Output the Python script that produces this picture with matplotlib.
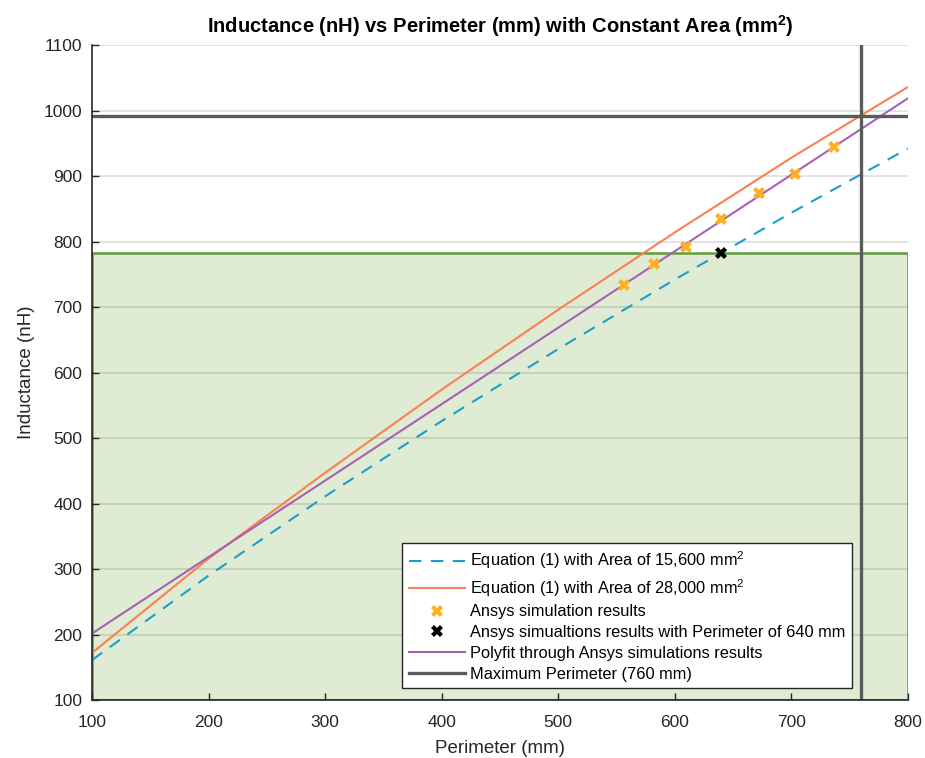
import numpy as np
import matplotlib
matplotlib.use("Agg")
import matplotlib.pyplot as plt
from matplotlib.patches import Rectangle

plt.rcParams['font.family'] = ['Liberation Sans', 'DejaVu Sans']
plt.rcParams['mathtext.fontset'] = 'custom'
plt.rcParams['mathtext.rm'] = 'Liberation Sans'
plt.rcParams['mathtext.bf'] = 'Liberation Sans:bold'

# ---- data ----
perimeter_eq = [100, 200, 300, 400, 500, 600, 700, 800]
L_area_15600 = [161, 290, 411, 526, 636, 742, 844, 942]
L_area_28000 = [172, 316, 447, 574, 696, 814, 928, 1036]

sim_perimeter = [556, 582, 610, 640, 672, 703, 737]
sim_L = [733, 766, 792, 835, 874, 903, 944]

sim640_perimeter = [640]
sim640_L = [782]

max_perimeter = 760
max_L = 992
target_L = 782

xticks = list(range(100, 801, 100))
yticks = list(range(100, 1101, 100))

# ---- figure ----
fig = plt.figure(figsize=(9.25, 7.58), dpi=100)
ax = fig.add_axes([0.0995, 0.0765, 0.882, 0.864])

ax.add_patch(Rectangle((100, 100), 700, target_L - 100, facecolor='#dfebd2',
                       edgecolor='#5e9c3c', linewidth=1.8, zorder=0.2))

ax.plot(perimeter_eq, L_area_15600, color='#1a9fcc', linestyle=(0, (6, 4.5)),
        linewidth=1.5, label='Equation (1) with Area of 15,600 mm$^2$', zorder=2)
ax.plot(perimeter_eq, L_area_28000, color='#f98052', linewidth=1.5,
        label='Equation (1) with Area of 28,000 mm$^2$', zorder=2)
ax.plot(sim_perimeter, sim_L, linestyle='none', marker='X', markersize=8,
        color='#ffb020', markeredgewidth=0, label='Ansys simulation results', zorder=3)
ax.plot(sim640_perimeter, sim640_L, linestyle='none', marker='X', markersize=8,
        color='black', markeredgewidth=0,
        label='Ansys simualtions results with Perimeter of 640 mm', zorder=3)

coef = np.polyfit(sim_perimeter, sim_L, 1)
xf = np.array([xticks[0], xticks[-1]])
ax.plot(xf, np.polyval(coef, xf), color='#a462b3', linewidth=1.5,
        label='Polyfit through Ansys simulations results', zorder=2)

ax.axvline(max_perimeter, color='#5a5a5a', linewidth=2.4,
           label='Maximum Perimeter (760 mm)', zorder=2.5)
ax.axhline(max_L, color='#5a5a5a', linewidth=2.4, zorder=2.5)

ax.set_xlim(100, 800)
ax.set_ylim(100, 1100)
ax.set_xticks(xticks)
ax.set_yticks(yticks)
ax.tick_params(direction='in', length=5, width=1, labelsize=12.5, colors='#262626')
ax.tick_params(axis='x', pad=11)
ax.tick_params(axis='y', pad=7)
ax.set_axisbelow(True)
ax.yaxis.grid(True, color='black', alpha=0.13, linewidth=1.2)
ax.xaxis.grid(False)
for s in ['top', 'right']:
    ax.spines[s].set_visible(False)
for s in ['left', 'bottom']:
    ax.spines[s].set_linewidth(1.2)
    ax.spines[s].set_color('#262626')

ax.set_xlabel('Perimeter (mm)', fontsize=13.5, color='#262626', labelpad=7)
ax.set_ylabel('Inductance (nH)', fontsize=13.5, color='#262626', labelpad=6)
ax.set_title(r'Inductance (nH) vs Perimeter (mm) with Constant Area (mm$^{\mathbf{2}}$)',
             fontsize=14.5, fontweight='bold', pad=9)

leg = ax.legend(loc='lower right', bbox_to_anchor=(0.931, 0.018), fontsize=11.8,
                frameon=True, fancybox=False, framealpha=1, edgecolor='#262626',
                handlelength=3.4, handletextpad=0.3, borderpad=0.4,
                labelspacing=0.35, borderaxespad=0)
leg.get_frame().set_linewidth(1.0)

fig.savefig('out.png', dpi=100)
